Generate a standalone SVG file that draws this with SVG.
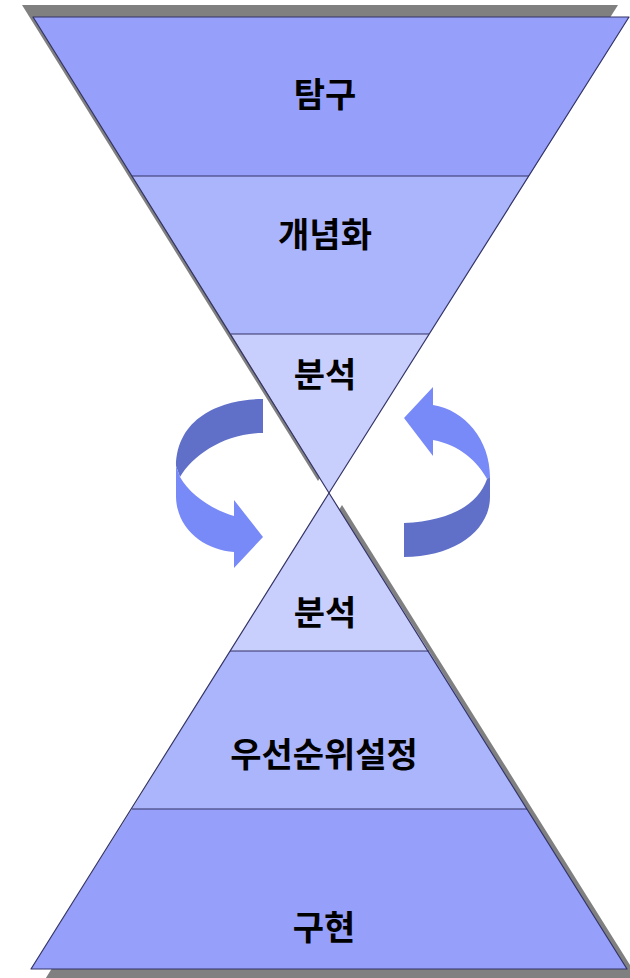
<svg xmlns="http://www.w3.org/2000/svg" width="630" height="978" viewBox="0 0 630 978">
<style>
.shadow{fill:#808080;}
.b1{fill:#96a0fa;}
.b2{fill:#abb5fb;}
.b3{fill:#c9cffc;}
.edge{fill:none;stroke:#333366;stroke-width:1.2;stroke-linejoin:round;}
.lbl{font-family:"Noto Sans CJK KR","Noto Sans",sans-serif;font-weight:bold;font-size:34px;fill:#000;text-anchor:middle;}
.dark{fill:#6070c8;}
.light{fill:#7889f8;}
</style>
<rect width="630" height="978" fill="#ffffff"/>
<g id="shadows">
<polygon class="shadow" points="22,5 618,5 318,481"/>
<polygon class="shadow" points="342,505 640,981 44,981"/>
</g>
<g id="top-funnel">
<g id="node-tamgu">
<polygon class="b1" points="33,17 629,17 529,176 132,176"/>
<text class="lbl" x="325" y="107">탐구</text>
</g>
<g id="node-gaenyeomhwa">
<polygon class="b2" points="132,176 529,176 429,334 231,334"/>
<text class="lbl" x="325" y="247">개념화</text>
</g>
<g id="node-bunseok-top">
<polygon class="b3" points="231,334 429,334 329,493"/>
<text class="lbl" x="325" y="387">분석</text>
</g>
<polygon class="edge" points="33,17 629,17 329,493"/>
<line class="edge" x1="132" y1="176" x2="529" y2="176"/>
<line class="edge" x1="231" y1="334" x2="429" y2="334"/>
</g>
<g id="bottom-funnel">
<g id="node-bunseok-bottom">
<polygon class="b3" points="329,493 429,651 230,651"/>
<text class="lbl" x="325" y="625">분석</text>
</g>
<g id="node-priority">
<polygon class="b2" points="230,651 429,651 527,809 132,809"/>
<text class="lbl" x="324" y="767">우선순위설정</text>
</g>
<g id="node-guhyeon">
<polygon class="b1" points="132,809 527,809 627,969 31,969"/>
<text class="lbl" x="324" y="940">구현</text>
</g>
<polygon class="edge" points="329,493 627,969 31,969"/>
<line class="edge" x1="230" y1="651" x2="429" y2="651"/>
<line class="edge" x1="132" y1="809" x2="527" y2="809"/>
</g>
<g id="connectors">
<g id="arrow-left">
<path class="dark" d="M263,399 C225,399 177,415 176,466 L180,477 C193,455 225,433 263,433 Z"/>
<path class="light" d="M176,466 L176,497 C177,530 205,550 234,552 L234,568 L263,537 L234,500 L234,516 C213,510 190,495 180,477 Z"/>
</g>
<g id="arrow-right">
<path class="light" d="M404,418 L433,387 L433,405 C465,410 490,440 490,477 L487,479 C478,462 460,445 433,440 L433,456 Z"/>
<path class="dark" d="M490,477 L490,497 C490,530 455,557 404,557 L404,523 C450,521 478,505 487,479 Z"/>
</g>
</g>
</svg>
